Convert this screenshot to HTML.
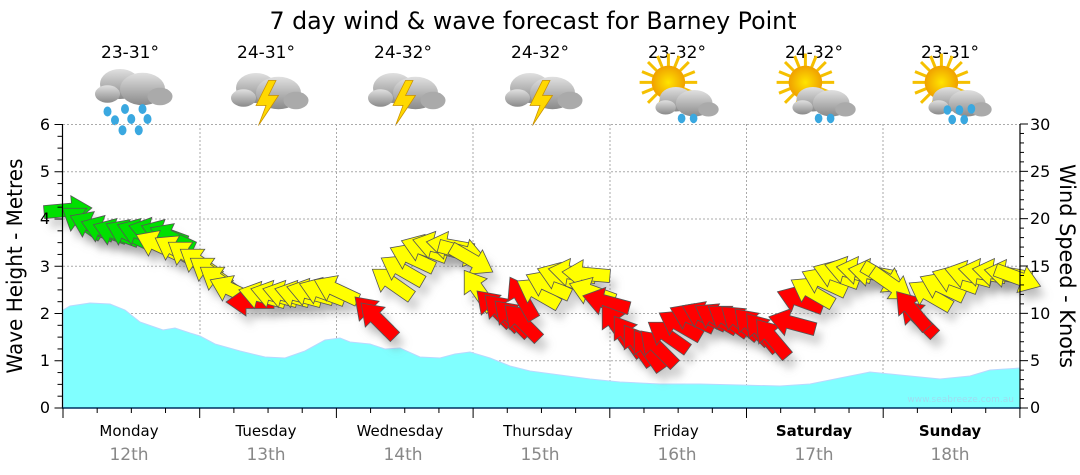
<!DOCTYPE html>
<html><head><meta charset="utf-8"><style>
html,body{margin:0;padding:0;background:#fff;width:1080px;height:475px;overflow:hidden}
svg text{font-family:"DejaVu Sans","Liberation Sans",sans-serif}
</style></head><body>
<svg id="s" width="1080" height="475" viewBox="0 0 1080 475" xmlns="http://www.w3.org/2000/svg">
<defs>
<linearGradient id="cg" x1="0" y1="0" x2="0" y2="1"><stop offset="0" stop-color="#e0e0e0"/><stop offset="1" stop-color="#8a8a8a"/></linearGradient>
<radialGradient id="sg"><stop offset="0" stop-color="#ffe400"/><stop offset="1" stop-color="#f0a000"/></radialGradient>
<filter id="sh" x="-50%" y="-50%" width="200%" height="200%"><feGaussianBlur stdDeviation="4"/></filter>
<g id="cloud"><ellipse cx="-8" cy="0" rx="16" ry="12" fill="url(#cg)"/><ellipse cx="10" cy="4" rx="18" ry="13" fill="url(#cg)"/><ellipse cx="-18" cy="8" rx="10" ry="7" fill="url(#cg)"/><ellipse cx="24" cy="10" rx="10" ry="7" fill="#aaa"/></g>
<g id="drop"><ellipse rx="3.2" ry="4" fill="#3aa8e0"/></g>
<g id="bolt"><polygon points="2,-6 -8,14 0,14 -6,30 10,6 2,6 8,-6" fill="#ffd800" stroke="#c89000" stroke-width="0.6"/></g>
<g id="sun"><g stroke="#f5c000" stroke-width="2.5">
<line x1="0" y1="-24" x2="0" y2="24"/><line x1="-24" y1="0" x2="24" y2="0"/><line x1="-17" y1="-17" x2="17" y2="17"/><line x1="-17" y1="17" x2="17" y2="-17"/>
<line x1="-9" y1="-22" x2="9" y2="22"/><line x1="-22" y1="-9" x2="22" y2="9"/><line x1="9" y1="-22" x2="-9" y2="22"/><line x1="22" y1="-9" x2="-22" y2="9"/></g>
<circle r="14" fill="url(#sg)"/></g>
</defs>
<text x="533" y="29" font-size="24" text-anchor="middle" textLength="527" lengthAdjust="spacingAndGlyphs">7 day wind &amp; wave forecast for Barney Point</text>
<g font-size="17" text-anchor="middle">
<text x="130" y="58">23-31°</text><text x="266" y="58">24-31°</text><text x="403" y="58">24-32°</text><text x="540" y="58">24-32°</text><text x="677" y="58">23-32°</text><text x="814" y="58">24-32°</text><text x="950" y="58">23-31°</text>
</g>
<g transform="translate(130,84) scale(1.25)"><use href="#cloud"/><use href="#drop" x="-18" y="22"/><use href="#drop" x="-4" y="20"/><use href="#drop" x="10" y="20"/><use href="#drop" x="-12" y="29"/><use href="#drop" x="1" y="28"/><use href="#drop" x="14" y="28"/><use href="#drop" x="-6" y="37"/><use href="#drop" x="7" y="37"/></g>
<g transform="translate(266,88) scale(1.25)"><use href="#cloud"/><use href="#bolt"/></g>
<g transform="translate(403,88) scale(1.25)"><use href="#cloud"/><use href="#bolt"/></g>
<g transform="translate(540,88) scale(1.25)"><use href="#cloud"/><use href="#bolt"/></g>
<g transform="translate(672,92) scale(1.2)"><use href="#sun" x="-3" y="-8"/><g transform="translate(10,6) scale(0.85)"><use href="#cloud"/></g><use href="#drop" x="8" y="22"/><use href="#drop" x="18" y="22"/></g>
<g transform="translate(809,92) scale(1.2)"><use href="#sun" x="-3" y="-8"/><g transform="translate(10,6) scale(0.85)"><use href="#cloud"/></g><use href="#drop" x="8" y="22"/><use href="#drop" x="18" y="22"/></g>
<g transform="translate(945,92) scale(1.2)"><use href="#sun" x="-3" y="-8"/><g transform="translate(10,6) scale(0.85)"><use href="#cloud"/></g><use href="#drop" x="2" y="15"/><use href="#drop" x="12" y="15"/><use href="#drop" x="22" y="14"/><use href="#drop" x="6" y="23"/><use href="#drop" x="16" y="23"/></g>
<g stroke="#aaa" stroke-width="1" stroke-dasharray="2,2">
<line x1="63" x2="1020" y1="124.5" y2="124.5"/><line x1="63" x2="1020" y1="171.75" y2="171.75"/><line x1="63" x2="1020" y1="219" y2="219"/><line x1="63" x2="1020" y1="266.25" y2="266.25"/><line x1="63" x2="1020" y1="313.5" y2="313.5"/><line x1="63" x2="1020" y1="360.75" y2="360.75"/>
<line y1="124" y2="408" x1="200" x2="200"/><line y1="124" y2="408" x1="336.5" x2="336.5"/><line y1="124" y2="408" x1="473" x2="473"/><line y1="124" y2="408" x1="610" x2="610"/><line y1="124" y2="408" x1="746.5" x2="746.5"/><line y1="124" y2="408" x1="883" x2="883"/>
</g>
<path d="M63,408 L63,310 L70,306 L90,303 L110,304 L125,310 L140,322 L163,330 L175,328 L190,333 L200,336 L215,344 L240,351 L265,357 L285,358 L305,351 L325,340 L340,338 L350,342 L370,344 L385,349 L400,348 L420,357 L440,358 L455,354 L470,352 L490,358 L510,366 L530,371 L560,375 L590,379 L620,382 L660,384 L700,384 L740,385 L780,386 L810,384 L840,378 L870,372 L900,375 L940,379 L970,376 L990,370 L1020,368 L1020,408 Z" fill="#80ffff" stroke="#b8d8ff" stroke-width="1"/>
<text x="1014" y="402" font-size="9" fill="#9fdcf0" text-anchor="end">www.seabreeze.com.au</text>
<g id="arrows"></g>
<g stroke="#000" stroke-width="1.2">
<line x1="62.5" y1="124" x2="62.5" y2="408"/><line x1="1020" y1="124" x2="1020" y2="408"/>
</g>
<line x1="62" y1="408" x2="1021" y2="408" stroke="#003060" stroke-width="1.5"/>
<g id="ticks" stroke="#000" stroke-width="1"></g>
<g font-size="16" text-anchor="end">
<text x="50" y="130">6</text><text x="50" y="177">5</text><text x="50" y="224">4</text><text x="50" y="272">3</text><text x="50" y="319">2</text><text x="50" y="366">1</text><text x="50" y="413">0</text>
</g>
<g font-size="16" text-anchor="start">
<text x="1030" y="130">30</text><text x="1030" y="177">25</text><text x="1030" y="224">20</text><text x="1030" y="272">15</text><text x="1030" y="319">10</text><text x="1030" y="366">5</text><text x="1030" y="413">0</text>
</g>
<text transform="translate(22,266) rotate(-90)" font-size="21" text-anchor="middle" textLength="215" lengthAdjust="spacingAndGlyphs">Wave Height - Metres</text>
<text transform="translate(1060,266) rotate(90)" font-size="21" text-anchor="middle" textLength="204" lengthAdjust="spacingAndGlyphs">Wind Speed - Knots</text>
<g font-size="15" text-anchor="middle">
<text x="129" y="436">Monday</text><text x="266" y="436">Tuesday</text><text x="400" y="436">Wednesday</text><text x="538" y="436">Thursday</text><text x="676" y="436">Friday</text><text x="814" y="436" font-weight="bold">Saturday</text><text x="950" y="436" font-weight="bold">Sunday</text>
</g>
<g font-size="17" text-anchor="middle" fill="#888">
<text x="129" y="460">12th</text><text x="266" y="460">13th</text><text x="403" y="460">14th</text><text x="540" y="460">15th</text><text x="677" y="460">16th</text><text x="814" y="460">17th</text><text x="950" y="460">18th</text>
</g>
</svg>
<script>
var t=document.getElementById("ticks"),h="";
for(var i=0;i<=24;i++){var y=408-i*47.25/4;var L=(i%4==0)?8:5;h+='<line x1="'+(62.5-L)+'" x2="62.5" y1="'+y+'" y2="'+y+'"/>';}
for(var i=0;i<=30;i++){var y=408-i*284/30;var L=(i%5==0)?8:4;h+='<line x1="1020" x2="'+(1020+L)+'" y1="'+y+'" y2="'+y+'"/>';}
for(var i=0;i<=28;i++){var x=63+i*136.7/4;var L=(i%4==0)?10:5;h+='<line x1="'+x+'" x2="'+x+'" y1="408" y2="'+(408+L)+'"/>';}
t.innerHTML=h;
var G="#00e000",Y="#ffff00",R="#ff0000";
var A=[
[68,210,-5,G],[82,222,215,G],[92,226,205,G],[104,230,200,G],[116,233,200,G],[128,234,205,G],[140,233,200,G],[152,232,195,G],[164,234,200,G],[172,238,205,G],
[158,245,205,Y],[176,250,210,Y],[188,256,215,Y],[200,263,215,Y],[210,272,215,Y],[220,281,215,Y],[232,290,205,Y],
[250,302,180,R],[262,296,195,Y],[274,295,195,Y],[286,295,195,Y],[298,295,195,Y],[310,293,195,Y],[322,292,200,Y],[336,290,205,Y],
[372,314,225,R],[378,320,225,R],[392,283,215,Y],[402,270,210,Y],[412,258,205,Y],[424,249,200,Y],[436,246,195,Y],[450,246,190,Y],[462,252,15,Y],[472,260,30,Y],
[478,290,235,Y],[494,308,225,R],[502,312,225,R],[512,318,225,R],[522,322,225,R],[522,298,240,R],[538,293,210,Y],[548,285,205,Y],[560,277,200,Y],[572,273,190,Y],[586,274,185,Y],
[592,292,200,Y],[606,302,195,R],[616,325,235,R],[628,336,235,R],[638,345,235,R],[648,350,235,R],[658,348,225,R],[668,336,215,R],[680,325,210,R],[692,318,205,R],[704,316,205,R],[716,318,210,R],[728,320,215,R],[740,322,220,R],[752,326,225,R],[762,332,230,R],[772,338,230,R],
[792,323,195,R],[800,300,200,R],[812,292,210,Y],[824,282,205,Y],[836,275,200,Y],[848,271,195,Y],[860,271,190,Y],[872,273,190,Y],[884,278,30,Y],[892,285,35,Y],
[918,318,225,R],[912,310,230,R],[930,295,210,Y],[942,287,205,Y],[955,280,200,Y],[968,275,195,Y],[982,273,190,Y],[996,273,190,Y],[1008,274,190,Y],[1018,278,20,Y]
];
var P="-24,-6.5 4,-6.5 4,-14 24,0 4,14 4,6.5 -24,6.5";
var s="",p="";
for(var k=0;k<A.length;k++){var a=A[k];
s+='<polygon transform="translate('+(a[0]+6)+','+(a[1]+10)+') rotate('+a[2]+')" points="'+P+'" fill="#888" opacity="0.35"/>';
p+='<polygon transform="translate('+a[0]+','+a[1]+') rotate('+a[2]+')" points="'+P+'" fill="'+a[3]+'" stroke="#555" stroke-width="0.8"/>';}
document.getElementById("arrows").innerHTML='<g filter="url(#sh)">'+s+'</g>'+p;
</script>
</body></html>
